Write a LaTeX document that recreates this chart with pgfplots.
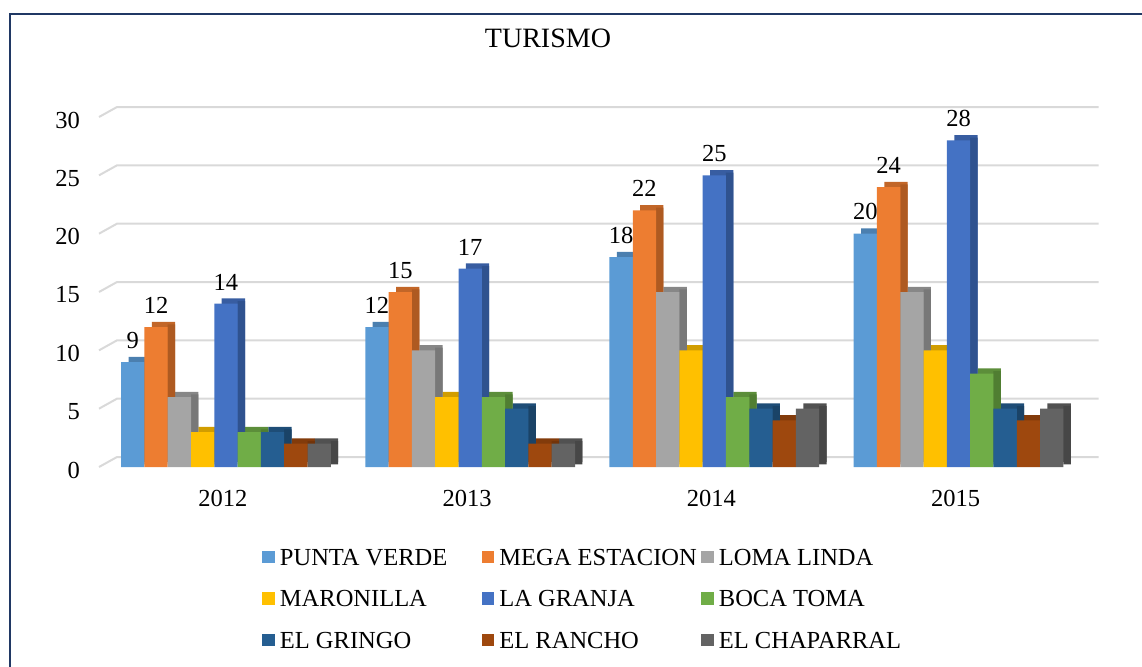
\documentclass[border=0pt]{standalone}
\usepackage{fontspec}
\setmainfont{Liberation Serif}
\usepackage{pgfplots}
\usepackage{pgfplotstable}
\pgfplotsset{compat=1.18}
\definecolor{cPV}{HTML}{5B9BD5}\definecolor{dPV}{HTML}{41719C}
\definecolor{cME}{HTML}{ED7D31}\definecolor{dME}{HTML}{AE5A21}
\definecolor{cLL}{HTML}{A5A5A5}\definecolor{dLL}{HTML}{787878}
\definecolor{cMA}{HTML}{FFC000}\definecolor{dMA}{HTML}{BC8C00}
\definecolor{cLG}{HTML}{4472C4}\definecolor{dLG}{HTML}{2F528F}
\definecolor{cBT}{HTML}{70AD47}\definecolor{dBT}{HTML}{507E32}
\definecolor{cEG}{HTML}{255E91}\definecolor{dEG}{HTML}{1A4367}
\definecolor{cER}{HTML}{9E480E}\definecolor{dER}{HTML}{72340A}
\definecolor{cEC}{HTML}{636363}\definecolor{dEC}{HTML}{474747}
\definecolor{gridc}{HTML}{D9D9D9}
\definecolor{frame}{HTML}{203864}
\newcommand{\fs}{\fontsize{12.25}{14.5}\selectfont}
\pgfplotstableread{
x PV ME LL MA LG BT EG ER EC
0 9 12 6 3 14 3 3 2 2
1 12 15 10 6 17 6 5 2 2
2 18 22 15 10 25 6 5 4 5
3 20 24 15 10 28 8 5 4 5
}\data
% top face layer (shifted back rectangle)
\newcommand{\topbar}[3]{\addplot[ybar, bar width=11.65pt, bar shift=#2, yshift=2.6pt, draw=none, fill=#3!82!black, forget plot] table[x=x,y=#1]{\data};}
% side face layer
\newcommand{\sidebar}[3]{\addplot[ybar, bar width=3.7pt, bar shift=#2, yshift=1.3pt, draw=none, fill=#3, forget plot] table[x=x,y=#1]{\data};}
\newcommand{\frontbar}[4]{\addplot[ybar, bar width=11.65pt, bar shift=#2, draw=none, fill=#3, legend image code/.code={\fill[fill=#3] (0pt,-3.65pt) rectangle (6.25pt,2.6pt);}] table[x=x,y=#1]{\data};\addlegendentry{\makebox[101pt][l]{#4}}}
\newcommand{\labelbar}[2]{\addplot[ybar, bar width=11.65pt, bar shift=#2, draw=none, fill=none, forget plot, nodes near coords, nodes near coords style={font=\fs, text=black, anchor=south, xshift=#2, yshift=3.2pt}] table[x=x,y=#1]{\data};}
\begin{document}
\begin{tikzpicture}
\path[use as bounding box] (0,0) rectangle (571pt,333pt);
\draw[line width=1.3pt, color=frame] (5pt,-5pt) -- (5pt,326pt) -- (580pt,326pt);
\node[font=\fontsize{14}{16}\selectfont] at (274pt,314pt) {TURISMO};
\begin{axis}[
  scale only axis, width=490.8pt, height=175pt,
  at={(49.5pt,99.5pt)}, anchor=south west,
  xmin=-0.52, xmax=3.5, ymin=0, ymax=30,
  ytick={0,5,...,30}, xtick={0,1,2,3}, xticklabels={2012,2013,2014,2015},
  axis line style={draw=none}, tick style={draw=none},
  clip=false,
  /pgf/number format/assume math mode=true,
  ticklabel style={font=\fs},
  yticklabel style={xshift=-6pt, yshift=-1.5pt},
  xticklabel style={xshift=-1.5pt, yshift=-8pt},
  legend columns=3,
  legend style={at={(axis description cs:0.1661,-0.2257)}, anchor=north west, draw=none, fill=none, inner sep=0pt, row sep=11.25pt, font=\fs, nodes={inner sep=0pt, text height=9.5pt, text depth=0pt}, /tikz/every odd column/.append style={column sep=2.5pt}},
]
\pgfplotsinvokeforeach{0,5,10,15,20,25,30}{
  \draw[gridc, line width=1pt] (axis cs:-0.52,#1) -- ++(9pt,5pt) -- ([shift={(9pt,5pt)}]axis cs:3.5,#1);
}
\topbar{PV}{-42.9pt}{cPV}
\topbar{ME}{-31.25pt}{cME}
\topbar{LL}{-19.6pt}{cLL}
\topbar{MA}{-7.95pt}{cMA}
\topbar{LG}{3.7pt}{cLG}
\topbar{BT}{15.35pt}{cBT}
\topbar{EG}{27pt}{cEG}
\topbar{ER}{38.65pt}{cER}
\topbar{EC}{50.3pt}{cEC}
\sidebar{PV}{-38.925pt}{dPV}
\sidebar{ME}{-27.275pt}{dME}
\sidebar{LL}{-15.625pt}{dLL}
\sidebar{MA}{-3.975pt}{dMA}
\sidebar{LG}{7.675pt}{dLG}
\sidebar{BT}{19.325pt}{dBT}
\sidebar{EG}{30.975pt}{dEG}
\sidebar{ER}{42.625pt}{dER}
\sidebar{EC}{54.275pt}{dEC}
\frontbar{PV}{-46.6pt}{cPV}{PUNTA VERDE}
\frontbar{ME}{-34.95pt}{cME}{MEGA ESTACION}
\frontbar{LL}{-23.3pt}{cLL}{LOMA LINDA}
\frontbar{MA}{-11.65pt}{cMA}{MARONILLA}
\frontbar{LG}{0pt}{cLG}{LA GRANJA}
\frontbar{BT}{11.65pt}{cBT}{BOCA TOMA}
\frontbar{EG}{23.3pt}{cEG}{EL GRINGO}
\frontbar{ER}{34.95pt}{cER}{EL RANCHO}
\frontbar{EC}{46.6pt}{cEC}{EL CHAPARRAL}
\labelbar{PV}{-46.6pt}
\labelbar{ME}{-34.95pt}
\labelbar{LG}{0pt}
\end{axis}
\end{tikzpicture}
\end{document}
